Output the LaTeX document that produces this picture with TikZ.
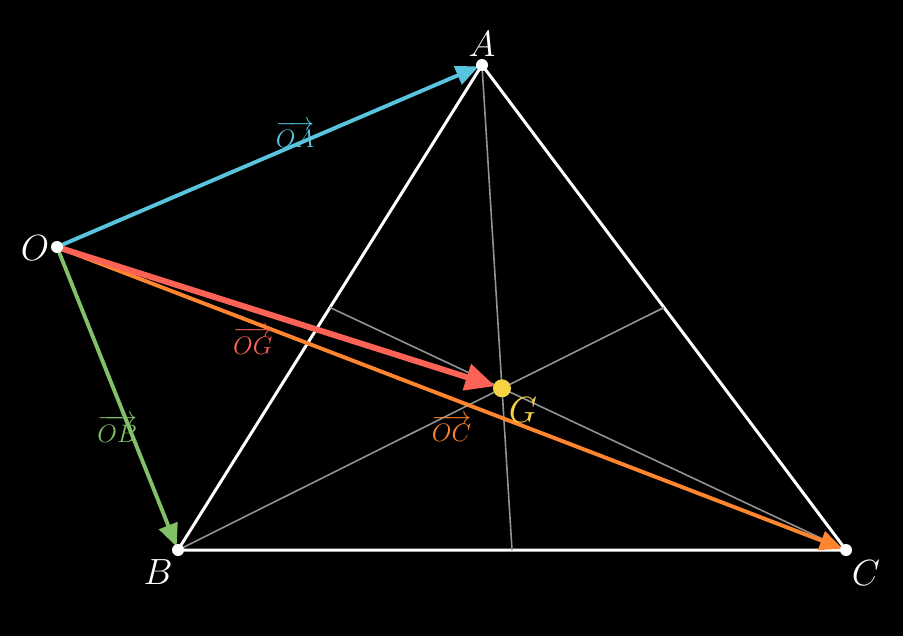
\documentclass[tikz,border=0pt]{standalone}
\usepackage{amsmath}
\usetikzlibrary{arrows.meta,calc}

\definecolor{vecA}{HTML}{58C4DD}
\definecolor{vecB}{HTML}{83C167}
\definecolor{vecC}{HTML}{FF862F}
\definecolor{vecG}{HTML}{FC6255}
\definecolor{ptG}{HTML}{F4D345}

\tikzset{
  vec/.style={line width=2.2pt,-{Triangle[length=13pt,width=11pt]},shorten >=2pt},
  ptlabel/.style={text=white,font=\fontsize{21}{24}\selectfont},
  veclabel/.style={font=\fontsize{14}{16}\selectfont},
}

\begin{document}
\begin{tikzpicture}[x=0.02cm,y=-0.02cm]
  \fill[black] (0,0) rectangle (903,636);
  \useasboundingbox (0,0) rectangle (903,636);
  % vertices (pixel grid, y downwards)
  \coordinate (O) at (57,247);
  \coordinate (A) at (482,65);
  \coordinate (B) at (178,550);
  \coordinate (C) at (846,550);
  \coordinate (G) at ($1/3*(A)+1/3*(B)+1/3*(C)$);
  \coordinate (mA) at ($(B)!0.5!(C)$);
  \coordinate (mB) at ($(A)!0.5!(C)$);
  \coordinate (mC) at ($(A)!0.5!(B)$);
  % triangle and medians
  \draw[white,line width=1.7pt] (A)--(B)--(C)--cycle;
  \draw[gray!85,line width=0.9pt] (A)--(mA) (B)--(mB) (C)--(mC);
  % the vectors
  \draw[vec,vecA] (O)-- node[veclabel,pos=0.56,yshift=6pt]{$\overrightarrow{OA}$} (A);
  \draw[vec,vecB] (O)-- node[veclabel,pos=0.6,xshift=-7pt]{$\overrightarrow{OB}$} (B);
  \draw[vec,vecC] (O)-- node[veclabel,pos=0.5,yshift=-17pt]{$\overrightarrow{OC}$} (C);
  \draw[vecG,line width=3.4pt,-{Triangle[length=17pt,width=15pt]},shorten >=4pt] (O)-- node[veclabel,pos=0.44,yshift=-18pt]{$\overrightarrow{OG}$} (G);
  % points
  \foreach \p in {O,A,B,C} \fill[white] (\p) circle (6);
  \fill[ptG] (G) circle (9);
  \node[ptlabel] (lO) at ($(O)+(-22,1)$) {$O$};
  \node[ptlabel] (lA) at ($(A)+(0,-21)$) {$A$};
  \node[ptlabel] (lB) at ($(B)+(-20,22)$) {$B$};
  \node[ptlabel] (lC) at ($(C)+(20,23)$) {$C$};
  \node[ptlabel,text=ptG] (lG) at ($(G)+(21,22)$) {$G$};
\end{tikzpicture}
\end{document}
